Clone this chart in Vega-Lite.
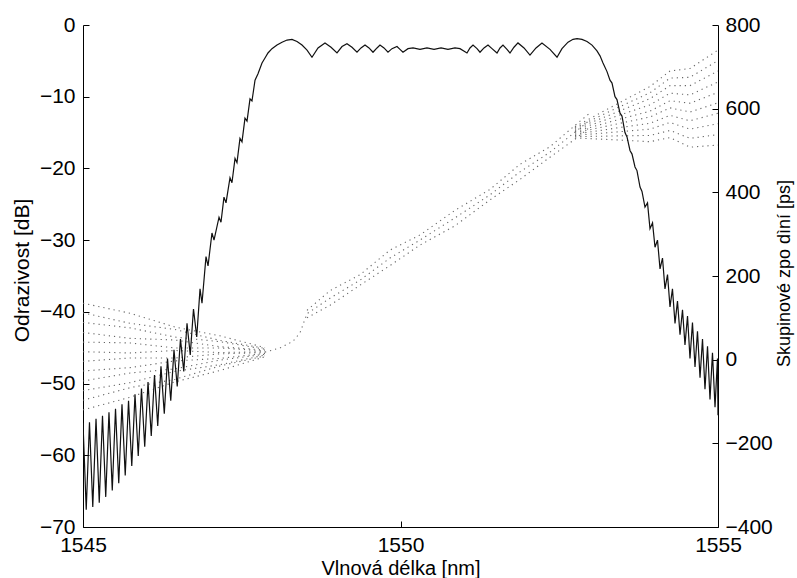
{
  "$schema": "https://vega.github.io/schema/vega-lite/v6.json",
  "width": 635,
  "height": 502,
  "autosize": {"type": "none"},
  "padding": {"left": 83, "top": 25, "right": 79, "bottom": 51},
  "background": "white",
  "config": {
    "view": {"stroke": null},
    "font": "Liberation Sans",
    "axis": {
      "grid": false,
      "domainColor": "#000",
      "domainWidth": 1,
      "tickColor": "#000",
      "tickSize": -6,
      "labelFlush": false,
      "labelOverlap": false,
      "labelFont": "Liberation Sans",
      "labelFontSize": 21,
      "labelColor": "#000",
      "titleFont": "Liberation Sans",
      "titleFontSize": 20,
      "titleFontWeight": "normal",
      "titleColor": "#000"
    }
  },
  "datasets": {
    "refl": [
      {"x":1545.000,"y":-55.5},{"x":1545.051,"y":-67.6},{"x":1545.102,"y":-55.4},{"x":1545.154,"y":-67.2},
      {"x":1545.205,"y":-54.9},{"x":1545.256,"y":-66.6},{"x":1545.307,"y":-54.5},{"x":1545.358,"y":-65.8},
      {"x":1545.409,"y":-54.0},{"x":1545.461,"y":-64.9},{"x":1545.512,"y":-53.5},{"x":1545.563,"y":-63.9},
      {"x":1545.614,"y":-52.9},{"x":1545.665,"y":-62.8},{"x":1545.717,"y":-52.4},{"x":1545.768,"y":-61.5},
      {"x":1545.819,"y":-51.5},{"x":1545.870,"y":-60.1},{"x":1545.921,"y":-50.7},{"x":1545.972,"y":-58.8},
      {"x":1546.024,"y":-49.8},{"x":1546.075,"y":-57.3},{"x":1546.126,"y":-48.8},{"x":1546.177,"y":-55.9},
      {"x":1546.228,"y":-47.6},{"x":1546.280,"y":-54.2},{"x":1546.331,"y":-46.5},{"x":1546.382,"y":-52.4},
      {"x":1546.433,"y":-45.3},{"x":1546.484,"y":-50.4},{"x":1546.535,"y":-43.8},{"x":1546.587,"y":-48.3},
      {"x":1546.638,"y":-41.6},{"x":1546.689,"y":-46.0},{"x":1546.740,"y":-39.6},{"x":1546.791,"y":-43.5},
      {"x":1546.843,"y":-36.8},{"x":1546.874,"y":-38.8},{"x":1546.937,"y":-32.3},{"x":1546.969,"y":-33.6},
      {"x":1547.031,"y":-29.0},{"x":1547.063,"y":-30.0},{"x":1547.142,"y":-26.8},{"x":1547.173,"y":-27.5},
      {"x":1547.220,"y":-24.0},{"x":1547.252,"y":-24.8},{"x":1547.315,"y":-21.3},{"x":1547.346,"y":-22.0},
      {"x":1547.394,"y":-18.6},{"x":1547.425,"y":-19.2},{"x":1547.472,"y":-15.8},{"x":1547.504,"y":-16.3},
      {"x":1547.551,"y":-13.0},{"x":1547.583,"y":-13.4},{"x":1547.630,"y":-10.3},{"x":1547.661,"y":-10.6},
      {"x":1547.709,"y":-7.7},{"x":1547.756,"y":-6.8},{"x":1547.819,"y":-5.3},{"x":1547.866,"y":-4.6},
      {"x":1547.913,"y":-3.9},{"x":1547.976,"y":-3.3},{"x":1548.055,"y":-2.8},{"x":1548.134,"y":-2.4},
      {"x":1548.213,"y":-2.1},{"x":1548.291,"y":-2.0},{"x":1548.370,"y":-2.3},{"x":1548.449,"y":-2.8},
      {"x":1548.528,"y":-3.5},{"x":1548.606,"y":-4.5},{"x":1548.701,"y":-3.2},{"x":1548.811,"y":-2.5},
      {"x":1548.906,"y":-3.1},{"x":1549.000,"y":-3.9},{"x":1549.079,"y":-3.0},{"x":1549.157,"y":-2.6},
      {"x":1549.236,"y":-3.1},{"x":1549.315,"y":-3.8},{"x":1549.378,"y":-3.2},{"x":1549.441,"y":-2.8},
      {"x":1549.504,"y":-3.2},{"x":1549.567,"y":-3.8},{"x":1549.630,"y":-3.2},{"x":1549.677,"y":-2.8},
      {"x":1549.740,"y":-3.2},{"x":1549.803,"y":-3.8},{"x":1549.866,"y":-3.3},{"x":1549.945,"y":-3.0},
      {"x":1549.992,"y":-3.4},{"x":1550.039,"y":-3.8},{"x":1550.118,"y":-3.3},{"x":1550.197,"y":-3.2},
      {"x":1550.307,"y":-3.4},{"x":1550.417,"y":-3.2},{"x":1550.528,"y":-3.4},{"x":1550.638,"y":-3.2},
      {"x":1550.748,"y":-3.4},{"x":1550.858,"y":-3.2},{"x":1550.937,"y":-3.3},{"x":1551.047,"y":-3.9},
      {"x":1551.094,"y":-3.2},{"x":1551.142,"y":-2.8},{"x":1551.205,"y":-3.3},{"x":1551.252,"y":-3.8},
      {"x":1551.315,"y":-3.2},{"x":1551.378,"y":-2.8},{"x":1551.441,"y":-3.3},{"x":1551.520,"y":-3.9},
      {"x":1551.567,"y":-3.2},{"x":1551.614,"y":-2.8},{"x":1551.677,"y":-3.4},{"x":1551.724,"y":-3.9},
      {"x":1551.787,"y":-3.1},{"x":1551.850,"y":-2.5},{"x":1551.945,"y":-3.2},{"x":1552.039,"y":-4.2},
      {"x":1552.134,"y":-3.2},{"x":1552.228,"y":-2.5},{"x":1552.354,"y":-3.4},{"x":1552.465,"y":-4.5},
      {"x":1552.543,"y":-3.3},{"x":1552.638,"y":-2.4},{"x":1552.717,"y":-2.0},{"x":1552.780,"y":-1.9},
      {"x":1552.858,"y":-2.0},{"x":1552.937,"y":-2.3},{"x":1553.016,"y":-2.8},{"x":1553.094,"y":-3.6},
      {"x":1553.142,"y":-4.3},{"x":1553.189,"y":-5.3},{"x":1553.252,"y":-6.5},{"x":1553.299,"y":-7.7},
      {"x":1553.331,"y":-8.1},{"x":1553.378,"y":-10.0},{"x":1553.409,"y":-10.4},{"x":1553.457,"y":-12.3},
      {"x":1553.488,"y":-12.7},{"x":1553.535,"y":-15.0},{"x":1553.567,"y":-15.6},{"x":1553.614,"y":-17.5},
      {"x":1553.646,"y":-18.0},{"x":1553.693,"y":-19.8},{"x":1553.724,"y":-20.3},{"x":1553.772,"y":-22.6},
      {"x":1553.803,"y":-23.2},{"x":1553.850,"y":-25.4},{"x":1553.890,"y":-24.8},{"x":1553.929,"y":-28.4},
      {"x":1553.969,"y":-27.6},{"x":1554.008,"y":-31.0},{"x":1554.047,"y":-30.0},{"x":1554.087,"y":-34.0},
      {"x":1554.126,"y":-32.5},{"x":1554.165,"y":-36.8},{"x":1554.205,"y":-34.8},{"x":1554.244,"y":-39.3},
      {"x":1554.283,"y":-36.8},{"x":1554.323,"y":-41.6},{"x":1554.362,"y":-38.5},{"x":1554.402,"y":-43.2},
      {"x":1554.441,"y":-39.7},{"x":1554.480,"y":-44.6},{"x":1554.520,"y":-40.6},{"x":1554.559,"y":-46.5},
      {"x":1554.598,"y":-41.5},{"x":1554.638,"y":-47.7},{"x":1554.677,"y":-42.7},{"x":1554.717,"y":-49.2},
      {"x":1554.756,"y":-43.8},{"x":1554.795,"y":-50.8},{"x":1554.835,"y":-44.8},{"x":1554.874,"y":-52.2},
      {"x":1554.913,"y":-45.7},{"x":1554.953,"y":-53.3},{"x":1554.992,"y":-46.5},{"x":1555.000,"y":-54.4}
    ],
    "gd": [
      {"s":"L0","x":1545.000,"ps":135},{"s":"L0","x":1545.740,"ps":111},{"s":"L0","x":1546.449,"ps":78},{"s":"L0","x":1547.157,"ps":57},{"s":"L0","x":1547.866,"ps":29},
      {"s":"L1","x":1545.000,"ps":112},{"s":"L1","x":1545.740,"ps":87},{"s":"L1","x":1546.449,"ps":72},{"s":"L1","x":1547.157,"ps":46},{"s":"L1","x":1547.866,"ps":27},
      {"s":"L2","x":1545.000,"ps":89},{"s":"L2","x":1545.740,"ps":76},{"s":"L2","x":1546.449,"ps":54},{"s":"L2","x":1547.157,"ps":43},{"s":"L2","x":1547.866,"ps":25},
      {"s":"L3","x":1545.000,"ps":65},{"s":"L3","x":1545.740,"ps":51},{"s":"L3","x":1546.449,"ps":47},{"s":"L3","x":1547.157,"ps":31},{"s":"L3","x":1547.866,"ps":23},
      {"s":"L4","x":1545.000,"ps":42},{"s":"L4","x":1545.740,"ps":40},{"s":"L4","x":1546.449,"ps":28},{"s":"L4","x":1547.157,"ps":28},{"s":"L4","x":1547.866,"ps":21},
      {"s":"L5","x":1545.000,"ps":19},{"s":"L5","x":1545.740,"ps":16},{"s":"L5","x":1546.449,"ps":22},{"s":"L5","x":1547.157,"ps":17},{"s":"L5","x":1547.866,"ps":19},
      {"s":"L6","x":1545.000,"ps":-4},{"s":"L6","x":1545.740,"ps":4},{"s":"L6","x":1546.449,"ps":4},{"s":"L6","x":1547.157,"ps":14},{"s":"L6","x":1547.866,"ps":17},
      {"s":"L7","x":1545.000,"ps":-27},{"s":"L7","x":1545.740,"ps":-19},{"s":"L7","x":1546.449,"ps":-3},{"s":"L7","x":1547.157,"ps":3},{"s":"L7","x":1547.866,"ps":15},
      {"s":"L8","x":1545.000,"ps":-51},{"s":"L8","x":1545.740,"ps":-32},{"s":"L8","x":1546.449,"ps":-22},{"s":"L8","x":1547.157,"ps":-1},{"s":"L8","x":1547.866,"ps":13},
      {"s":"L9","x":1545.000,"ps":-74},{"s":"L9","x":1545.740,"ps":-55},{"s":"L9","x":1546.449,"ps":-28},{"s":"L9","x":1547.157,"ps":-12},{"s":"L9","x":1547.866,"ps":11},
      {"s":"L10","x":1545.000,"ps":-97},{"s":"L10","x":1545.740,"ps":-67},{"s":"L10","x":1546.449,"ps":-47},{"s":"L10","x":1547.157,"ps":-15},{"s":"L10","x":1547.866,"ps":9},
      {"s":"L11","x":1545.000,"ps":-120},{"s":"L11","x":1545.740,"ps":-90},{"s":"L11","x":1546.449,"ps":-53},{"s":"L11","x":1547.157,"ps":-26},{"s":"L11","x":1547.866,"ps":7},
      {"s":"M1","x":1547.866,"ps":18},{"s":"M1","x":1548.102,"ps":28},{"s":"M1","x":1548.307,"ps":44},{"s":"M1","x":1548.417,"ps":64},{"s":"M1","x":1548.528,"ps":110},
      {"s":"M1","x":1548.890,"ps":147},{"s":"M1","x":1549.362,"ps":190},{"s":"M1","x":1549.835,"ps":243},{"s":"M1","x":1550.307,"ps":286},{"s":"M1","x":1550.858,"ps":339},
      {"s":"M1","x":1551.409,"ps":394},{"s":"M1","x":1551.882,"ps":449},{"s":"M1","x":1552.354,"ps":496},{"s":"M1","x":1552.748,"ps":544},{"s":"M1","x":1552.984,"ps":573},
      {"s":"M0","x":1548.528,"ps":118},{"s":"M0","x":1548.890,"ps":165},{"s":"M0","x":1549.362,"ps":203},{"s":"M0","x":1549.835,"ps":262},{"s":"M0","x":1550.307,"ps":298},
      {"s":"M0","x":1550.858,"ps":357},{"s":"M0","x":1551.409,"ps":407},{"s":"M0","x":1551.882,"ps":467},{"s":"M0","x":1552.354,"ps":509},{"s":"M0","x":1552.748,"ps":560},{"s":"M0","x":1552.984,"ps":590},
      {"s":"M2","x":1548.528,"ps":100},{"s":"M2","x":1548.890,"ps":130},{"s":"M2","x":1549.362,"ps":178},{"s":"M2","x":1549.835,"ps":225},{"s":"M2","x":1550.307,"ps":274},
      {"s":"M2","x":1550.858,"ps":320},{"s":"M2","x":1551.409,"ps":382},{"s":"M2","x":1551.882,"ps":431},{"s":"M2","x":1552.354,"ps":484},{"s":"M2","x":1552.748,"ps":527},{"s":"M2","x":1552.984,"ps":556},
      {"s":"R0","x":1552.748,"ps":557},{"s":"R0","x":1553.457,"ps":615},{"s":"R0","x":1553.929,"ps":653},{"s":"R0","x":1554.244,"ps":690},{"s":"R0","x":1554.559,"ps":696},{"s":"R0","x":1555.000,"ps":740},
      {"s":"R1","x":1552.748,"ps":554},{"s":"R1","x":1553.457,"ps":605},{"s":"R1","x":1553.929,"ps":638},{"s":"R1","x":1554.244,"ps":673},{"s":"R1","x":1554.559,"ps":675},{"s":"R1","x":1555.000,"ps":715},
      {"s":"R2","x":1552.748,"ps":551},{"s":"R2","x":1553.457,"ps":595},{"s":"R2","x":1553.929,"ps":624},{"s":"R2","x":1554.244,"ps":655},{"s":"R2","x":1554.559,"ps":655},{"s":"R2","x":1555.000,"ps":690},
      {"s":"R3","x":1552.748,"ps":548},{"s":"R3","x":1553.457,"ps":585},{"s":"R3","x":1553.929,"ps":609},{"s":"R3","x":1554.244,"ps":637},{"s":"R3","x":1554.559,"ps":633},{"s":"R3","x":1555.000,"ps":664},
      {"s":"R4","x":1552.748,"ps":545},{"s":"R4","x":1553.457,"ps":575},{"s":"R4","x":1553.929,"ps":594},{"s":"R4","x":1554.244,"ps":619},{"s":"R4","x":1554.559,"ps":613},{"s":"R4","x":1555.000,"ps":639},
      {"s":"R5","x":1552.748,"ps":542},{"s":"R5","x":1553.457,"ps":565},{"s":"R5","x":1553.929,"ps":580},{"s":"R5","x":1554.244,"ps":602},{"s":"R5","x":1554.559,"ps":592},{"s":"R5","x":1555.000,"ps":614},
      {"s":"R6","x":1552.748,"ps":539},{"s":"R6","x":1553.457,"ps":555},{"s":"R6","x":1553.929,"ps":565},{"s":"R6","x":1554.244,"ps":584},{"s":"R6","x":1554.559,"ps":571},{"s":"R6","x":1555.000,"ps":589},
      {"s":"R7","x":1552.748,"ps":536},{"s":"R7","x":1553.457,"ps":545},{"s":"R7","x":1553.929,"ps":551},{"s":"R7","x":1554.244,"ps":567},{"s":"R7","x":1554.559,"ps":551},{"s":"R7","x":1555.000,"ps":564},
      {"s":"R8","x":1552.748,"ps":533},{"s":"R8","x":1553.457,"ps":535},{"s":"R8","x":1553.929,"ps":536},{"s":"R8","x":1554.244,"ps":548},{"s":"R8","x":1554.559,"ps":529},{"s":"R8","x":1555.000,"ps":538},
      {"s":"R9","x":1552.748,"ps":530},{"s":"R9","x":1553.457,"ps":525},{"s":"R9","x":1553.929,"ps":521},{"s":"R9","x":1554.244,"ps":531},{"s":"R9","x":1554.559,"ps":508},{"s":"R9","x":1555.000,"ps":513}
    ]
  },
  "layer": [
    {
      "data": {"name": "gd"},
      "mark": {"type": "line", "color": "#666", "strokeWidth": 1.1, "strokeDash": [1.2, 4], "clip": true},
      "encoding": {
        "x": {"field": "x", "type": "quantitative", "scale": {"domain": [1545, 1555], "nice": false, "zero": false}},
        "y": {
          "field": "ps", "type": "quantitative",
          "scale": {"domain": [-400, 800], "nice": false, "zero": false},
          "axis": {
            "orient": "right",
            "values": [-400, -200, 0, 200, 400, 600, 800],
            "title": "Skupinové zpo dìní [ps]",
            "titleAngle": 270,
            "titleAlign": "center",
            "titleBaseline": "middle",
            "titleX": 66,
            "titleY": 248,
            "titleFontSize": 18,
            "labelPadding": 13
          }
        },
        "detail": {"field": "s", "type": "nominal"}
      }
    },
    {
      "data": {"name": "refl"},
      "mark": {"type": "line", "color": "#111", "strokeWidth": 1.2, "clip": true},
      "encoding": {
        "x": {
          "field": "x", "type": "quantitative",
          "scale": {"domain": [1545, 1555], "nice": false, "zero": false},
          "axis": {
            "orient": "bottom",
            "values": [1545, 1550, 1555],
            "format": "d",
            "title": "Vlnová délka [nm]",
            "titleAlign": "center",
            "titleBaseline": "alphabetic",
            "titleX": 317.5,
            "titleY": 47,
            "labelPadding": 13
          }
        },
        "y": {
          "field": "y", "type": "quantitative",
          "scale": {"domain": [-70, 0], "nice": false, "zero": false},
          "axis": {
            "orient": "left",
            "values": [-70, -60, -50, -40, -30, -20, -10, 0],
            "title": "Odrazivost [dB]",
            "titleAngle": 270,
            "titleAlign": "center",
            "titleBaseline": "middle",
            "titleX": -61,
            "titleY": 245,
            "titleFontSize": 21,
            "labelPadding": 14
          }
        }
      }
    }
  ],
  "resolve": {"scale": {"y": "independent"}}
}
